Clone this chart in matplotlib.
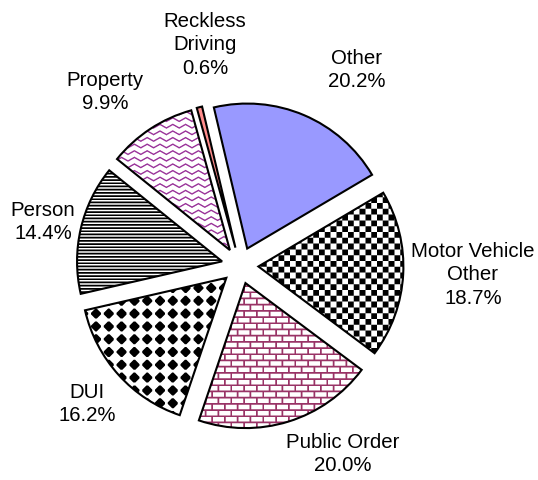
import numpy as np
import matplotlib
matplotlib.use("Agg")
from matplotlib import pyplot as plt
from matplotlib.colors import to_rgb

# offence categories, clockwise from the top
labels = ["Other", "Motor Vehicle\nOther", "Public Order", "DUI", "Person", "Property", "Reckless\nDriving"]
shares = [20.2, 18.7, 20.0, 16.2, 14.4, 9.9, 0.6]

# label centres in pixels (x, y from top)
label_pos = [(357, 70), (473, 275), (343, 454), (87, 404), (43, 222), (105, 92), (205, 45)]

W, H = 538, 480
PX = 145.0             # pie radius in pixels
CX, CY = 240.0, 265.5  # pie centre in pixels

plt.rcParams['font.family'] = ['Liberation Sans', 'DejaVu Sans']

fig = plt.figure(figsize=(W / 100, H / 100), dpi=100)
ax = fig.add_axes([0, 0, 1, 1])

wedges, _ = ax.pie(shares, startangle=103.3, counterclock=False, radius=1,
                   explode=[0.127] * len(shares),
                   wedgeprops=dict(linewidth=1.5, edgecolor='black', facecolor='none'))
ax.set_xlim(-CX / PX, (W - CX) / PX)
ax.set_ylim((CY - H) / PX, CY / PX)
ax.axis('off')

# --- fill patterns, built on the pixel grid with 4x supersampling ---
SS = 4
yy, xx = np.mgrid[0:H * SS, 0:W * SS]
xs = (xx + 0.5) / SS
ys = (yy + 0.5) / SS


def shrink(mask):
    return mask.astype(float).reshape(H, SS, W, SS).mean(axis=(1, 3))


def checker():
    return ((np.floor(xs / 5.8) + np.floor(ys / 5.8)) % 2 == 0)


def brick():
    row = np.floor(ys / 6.2)
    hl = (ys % 6.2) < 1.7
    vl = ((xs + (row % 2) * 6.4) % 12.8) < 1.7
    return hl | vl


def diamond():
    dx = np.abs(xs % 12.8 - 6.4)
    dy = np.abs(ys % 12.8 - 6.4)
    return (dx + dy <= 5.8) & (np.maximum(dx, dy) <= 5.0)


def hlines():
    return (ys % 3.2) < 1.7


def wave():
    t = (xs % 12.8) / 12.8
    tri = 1.8 * (4 * np.abs(t - 0.5) - 1)
    return ((ys - tri) % 6.6) < 1.6


def solid():
    return np.ones(xs.shape, dtype=bool)


fills = [(solid, '#9999FF'), (checker, 'black'), (brick, '#993366'), (diamond, 'black'),
         (hlines, 'black'), (wave, '#993399'), (solid, '#FF8C8C')]

extent = ax.get_xlim() + ax.get_ylim()
for w, (fn, col) in zip(wedges, fills):
    ink = shrink(fn())[..., None]
    rgb = ink * np.array(to_rgb(col)) + (1 - ink) * np.ones(3)
    im = ax.imshow(rgb, extent=extent, origin='upper', interpolation='nearest', zorder=0.5)
    im.set_clip_path(w)
    w.set_zorder(1)

ax.set_xlim(extent[0], extent[1])
ax.set_ylim(extent[2], extent[3])

for lab, val, (px, py) in zip(labels, shares, label_pos):
    fig.text(px / W, 1 - py / H, f"{lab}\n{val:.1f}%", ha='center', va='center',
             fontsize=14.7, linespacing=1.3)

fig.savefig('out.png', dpi=100)
